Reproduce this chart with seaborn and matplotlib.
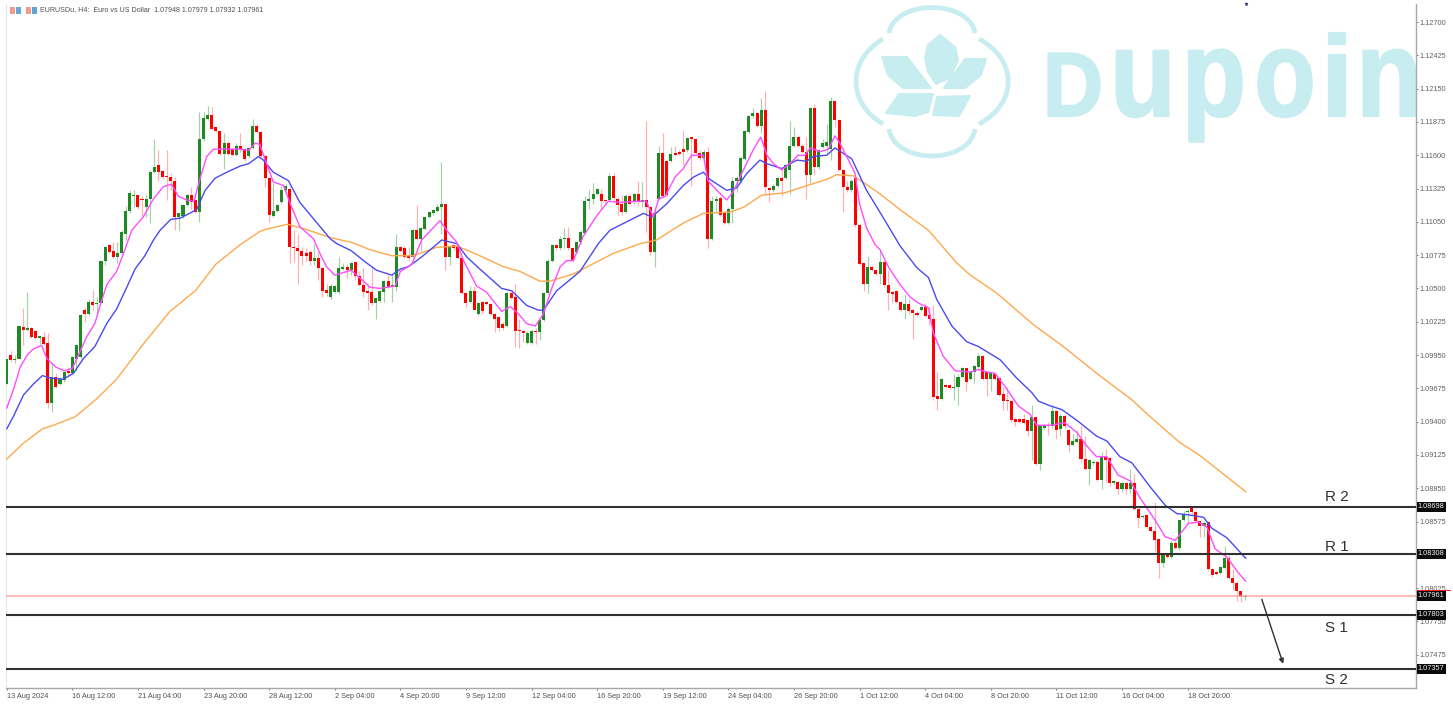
import numpy as np
import pandas as pd
import matplotlib
matplotlib.use("Agg")
import matplotlib.pyplot as plt
import seaborn as sns
from matplotlib.patches import PathPatch, Polygon, Rectangle
from matplotlib.path import Path
from matplotlib.patheffects import AbstractPathEffect
from matplotlib.transforms import Affine2D, blended_transform_factory

# prices are in pips (1 pip = 0.0001)
opens = [
 10971,10995,10991,10992,11018,11016,11017,11015,11009,11010,
 11005,10955,10977,10971,10974,10982,10980,10992,10993,11032,
 11029,11039,11037,11038,11073,11086,11081,11076,11079,11095,
 11114,11126,11127,11124,11117,11124,11146,11152,11147,11143,
 11142,11139,11109,11110,11119,11127,11123,11113,11173,11190,
 11193,11183,11180,11161,11170,11165,11160,11168,11165,11159,
 11166,11184,11179,11159,11141,11110,11114,11121,11131,11132,
 11084,11083,11081,11079,11080,11073,11075,11067,11049,11043,
 11047,11047,11066,11068,11065,11072,11060,11053,11048,11047,
 11038,11040,11047,11056,11051,11051,11084,11083,11077,11076,
 11098,11091,11099,11109,11112,11114,11117,11120,11076,11086,
 11084,11075,11046,11039,11048,11029,11039,11039,11037,11029,
 11026,11021,11019,11046,11043,11016,11015,11005,11005,11015,
 11014,11024,11046,11073,11086,11083,11091,11092,11083,11080,
 11088,11096,11122,11124,11128,11128,11123,11123,11143,11124,
 11120,11113,11126,11121,11128,11121,11123,11117,11080,11124,
 11162,11155,11155,11162,11163,11165,11164,11175,11173,11162,
 11158,11163,11091,11122,11125,11113,11104,11116,11139,11139,
 11157,11179,11192,11195,11184,11197,11133,11131,11135,11141,
 11141,11148,11168,11175,11168,11163,11144,11199,11150,11167,
 11168,11165,11205,11189,11148,11134,11131,11141,11102,11071,
 11054,11068,11065,11062,11072,11053,11047,11048,11039,11032,
 11037,11032,11030,11032,11035,11028,11025,10961,10959,10970,
 10970,10968,10969,10977,10984,10975,10981,10985,10994,10981,
 10975,10979,10976,10963,10958,10957,10942,10942,10942,10941,
 10932,10944,10905,10935,10937,10936,10949,10934,10945,10933,
 10921,10923,10926,10909,10901,10906,10907,10892,10911,10910,
 10889,10890,10884,10889,10884,10889,10868,10861,10863,10853,
 10850,10843,10823,10830,10828,10840,10836,10859,10865,10869,
 10865,10858,10854,10857,10818,10816,10815,10819,10827,10811,
 10807,10800,10795]
closes = [
 10992,10991,10992,11019,11016,11017,11010,11009,11011,11004,
 10955,10977,10969,10975,10981,10980,10993,11003,11028,11029,
 11039,11036,11038,11073,11084,11080,11076,11079,11097,11114,
 11129,11127,11117,11123,11124,11146,11150,11146,11142,11142,
 11139,11109,11112,11119,11127,11121,11113,11173,11191,11193,
 11182,11180,11161,11170,11161,11160,11168,11165,11157,11166,
 11184,11179,11159,11141,11111,11114,11119,11131,11135,11084,
 11083,11081,11077,11077,11073,11075,11067,11048,11046,11052,
 11052,11067,11068,11065,11071,11060,11053,11047,11046,11038,
 11042,11048,11056,11051,11053,11084,11081,11076,11075,11098,
 11091,11100,11109,11113,11115,11117,11120,11076,11084,11083,
 11075,11046,11038,11048,11032,11038,11031,11037,11029,11025,
 11017,11017,11046,11042,11015,11015,11013,11013,11015,11014,
 11024,11046,11073,11086,11083,11091,11092,11083,11073,11088,
 11097,11122,11124,11128,11132,11122,11122,11143,11125,11119,
 11113,11126,11120,11128,11121,11123,11117,11080,11112,11162,
 11126,11127,11161,11160,11161,11163,11174,11173,11162,11158,
 11163,11091,11122,11124,11111,11104,11116,11139,11141,11158,
 11180,11192,11195,11184,11197,11134,11131,11135,11141,11139,
 11152,11168,11175,11168,11163,11144,11199,11150,11164,11170,
 11171,11205,11189,11148,11134,11131,11139,11102,11070,11054,
 11068,11065,11062,11072,11053,11046,11045,11039,11032,11037,
 11031,11030,11028,11035,11027,11025,10960,10959,10975,10969,
 10968,10969,10977,10984,10973,10981,10986,10994,10975,10975,
 10980,10975,10962,10957,10957,10941,10940,10940,10939,10932,
 10944,10905,10936,10937,10936,10949,10933,10945,10936,10921,
 10924,10926,10909,10901,10908,10907,10892,10911,10908,10889,
 10891,10884,10889,10884,10889,10868,10860,10862,10853,10850,
 10842,10823,10830,10828,10840,10836,10859,10864,10866,10865,
 10858,10854,10856,10818,10813,10814,10820,10827,10811,10807,
 10800,10795,10796]
highs = [
 10992,10998,10995,11019,11034,11047,11018,11015,11011,11014,
 11013,10988,10980,10977,10982,10985,10994,11004,11029,11035,
 11041,11049,11043,11073,11085,11086,11088,11088,11098,11118,
 11131,11131,11127,11126,11128,11148,11173,11164,11148,11164,
 11145,11142,11112,11120,11128,11134,11124,11196,11196,11201,
 11200,11183,11180,11178,11171,11166,11170,11178,11166,11167,
 11190,11186,11180,11160,11142,11137,11120,11135,11136,11134,
 11098,11095,11084,11083,11082,11087,11080,11068,11054,11054,
 11053,11076,11071,11070,11072,11072,11064,11067,11054,11068,
 11043,11048,11057,11061,11062,11095,11085,11085,11084,11099,
 11119,11101,11110,11114,11116,11120,11154,11120,11085,11087,
 11085,11076,11047,11052,11052,11039,11040,11040,11038,11030,
 11027,11022,11047,11047,11054,11025,11016,11015,11016,11017,
 11025,11047,11074,11087,11087,11093,11100,11101,11084,11089,
 11098,11126,11132,11137,11133,11132,11124,11145,11145,11125,
 11127,11128,11129,11129,11139,11138,11188,11118,11115,11168,
 11178,11156,11167,11168,11164,11181,11175,11175,11174,11164,
 11164,11167,11126,11126,11126,11114,11117,11142,11143,11159,
 11181,11193,11199,11196,11207,11213,11134,11136,11142,11149,
 11153,11188,11183,11177,11169,11175,11200,11202,11165,11173,
 11186,11208,11205,11190,11149,11139,11140,11142,11103,11071,
 11077,11069,11066,11082,11073,11065,11048,11049,11040,11045,
 11041,11033,11031,11036,11038,11035,11036,10981,10976,10971,
 10971,10979,10979,10985,10984,10982,10987,10997,10995,10982,
 10981,10980,10977,10969,10969,10958,10943,10943,10946,10942,
 10954,10945,10937,10938,10940,10954,10950,10946,10946,10934,
 10930,10933,10936,10928,10909,10908,10908,10915,10917,10911,
 10892,10891,10890,10890,10901,10897,10869,10863,10864,10854,
 10874,10844,10831,10831,10841,10841,10859,10866,10868,10870,
 10866,10859,10858,10858,10819,10817,10821,10837,10830,10818,
 10808,10800,10798]
lows = [
 10971,10989,10988,10992,11003,11015,11009,11008,11004,11003,
 10951,10948,10968,10970,10973,10977,10979,10982,10992,11022,
 11028,11032,11029,11037,11069,11079,11075,11071,11077,11090,
 11112,11117,11116,11110,11109,11104,11145,11139,11140,11123,
 11131,11098,11098,11108,11118,11116,11112,11105,11172,11189,
 11181,11179,11160,11149,11160,11159,11159,11163,11155,11158,
 11165,11178,11158,11134,11105,11109,11113,11120,11130,11071,
 11072,11054,11069,11073,11069,11069,11057,11043,11044,11041,
 11046,11045,11065,11059,11061,11057,11052,11043,11032,11036,
 11025,11039,11039,11050,11039,11048,11080,11075,11073,11076,
 11090,11081,11098,11108,11111,11113,11095,11065,11069,11082,
 11074,11045,11035,11038,11032,11028,11029,11036,11028,11014,
 11015,11016,11018,11041,11002,11001,11006,11004,11004,11004,
 11007,11023,11045,11072,11082,11082,11083,11082,11072,11079,
 11087,11095,11116,11120,11127,11115,11120,11122,11122,11111,
 11111,11112,11119,11120,11118,11117,11097,11078,11068,11123,
 11125,11126,11154,11159,11160,11152,11163,11135,11161,11156,
 11157,11083,11090,11113,11110,11103,11103,11104,11130,11137,
 11156,11178,11191,11183,11178,11127,11121,11130,11134,11126,
 11140,11128,11167,11167,11162,11124,11137,11144,11149,11166,
 11161,11156,11183,11147,11113,11130,11130,11101,11069,11048,
 11046,11064,11061,11054,11051,11032,11038,11038,11031,11025,
 11029,11008,11026,11031,11026,11020,10958,10950,10958,10968,
 10967,10958,10954,10976,10965,10974,10972,10984,10974,10961,
 10965,10974,10961,10950,10950,10940,10936,10939,10938,10928,
 10908,10904,10900,10934,10929,10935,10926,10928,10935,10915,
 10920,10922,10907,10900,10888,10905,10891,10884,10890,10887,
 10888,10880,10882,10880,10881,10867,10853,10860,10852,10849,
 10833,10811,10820,10827,10827,10835,10834,10858,10857,10864,
 10857,10845,10845,10817,10812,10813,10814,10818,10810,10801,
 10792,10791,10793]

fast_bar = [0,1.6,3.3,5,6.5,8.5,9.8,12,14,16,17.5,19.5,21.5,22.8,24.4,26.8,28.5,30.5,33.3,35.8,38.2,40.2,41.9,43.9,45.7,47,48.8,50.4,53.7,56.9,59,60.6,61.7,63.4,65,67.5,69.5,71.5,74.8,76.8,78,80,84,86,88.6,91,94.7,96,98.8,101.2,103.7,105.7,107.3,109.8,111.4,114.6,117,120.7,122.8,124.8,126.8,128.9,130.9,132.9,135,136.6,138.2,140.6,143.9,146.7,149.6,153.6,156,157.7,159,160.6,163,165,167,169.9,171,173.2,175.6,177.2,179.7,182,183.9,185.4,187,189,191,193,194.7,196,198.4,200.4,202,203.2,205.3,206.9,208,209.7,211.8,213,215,217.9,220.3,222.3,224.8,226,228.4,231.3,235,237,239,241,243.5,246.7,249.6,251.2,254.5,258.1,261,263.4,265.8,268.3,271,274,276.4,280,282.5,285,286.6,288.2,290.7,292.7,294.7,297.6,300.4,302.2]
fast_ma = [10951,10966,10985,10995,11000,11003,10992,10985,10982,10984,10995,11010,11021,11036,11053,11064,11079,11098,11109,11124,11134,11136,11126,11123,11122,11139,11159,11165,11165,11165,11164,11170,11169,11153,11138,11135,11117,11101,11091,11076,11068,11061,11065,11059,11051,11050,11052,11064,11070,11090,11099,11106,11098,11088,11073,11052,11047,11031,11035,11029,11021,11019,11029,11050,11068,11073,11073,11093,11110,11122,11121,11122,11122,11109,11124,11126,11142,11149,11160,11160,11139,11131,11123,11130,11148,11164,11175,11160,11153,11148,11153,11160,11160,11166,11163,11165,11176,11170,11156,11145,11120,11100,11086,11082,11068,11053,11043,11038,11034,11013,10994,10982,10981,10983,10981,10980,10969,10953,10946,10937,10937,10939,10931,10920,10911,10911,10896,10891,10877,10859,10845,10842,10849,10856,10857,10853,10835,10828,10815,10808]

mid_bar = [0,1.6,4.1,6.5,8.7,10.6,13.8,16.3,18.7,21.5,24.4,26.8,29.3,31.3,33.7,35.8,37.4,40,42.3,46.3,48.4,50.8,53.7,56.9,59,61.4,62.6,65,68.7,71.5,75.2,78.9,80.5,84.1,87,90.2,93.9,96,98,101.2,106.1,109.8,112.2,115.4,120.7,123.2,126.8,129.7,130.9,134.1,136.6,139.8,144.3,147.1,151.2,155.3,157.3,161,165,167.5,169.9,171.5,175.6,178,180.5,183.7,185.4,189,192.7,195.1,196.7,200,202,206.1,209.7,212.6,217.9,222,224.8,226.8,230.5,234.1,237,242.3,246.3,250,251.6,254.5,257.3,261.4,265.8,268.3,271.5,274.4,278.9,282.5,285.4,288.2,291.9,293.9,297.6,302.2]
mid_ma = [10934,10944,10962,10971,10978,10976,10975,10980,10992,11002,11021,11033,11051,11066,11077,11090,11098,11107,11108,11115,11131,11141,11146,11151,11153,11159,11156,11146,11139,11121,11106,11091,11087,11081,11073,11065,11061,11066,11068,11076,11090,11087,11076,11066,11050,11048,11036,11032,11032,11048,11055,11064,11087,11098,11105,11112,11109,11120,11135,11142,11146,11140,11131,11133,11145,11156,11153,11149,11156,11155,11159,11160,11166,11157,11131,11115,11085,11067,11059,11041,11019,11006,11002,10991,10976,10964,10957,10953,10950,10940,10928,10924,10911,10906,10886,10871,10864,10863,10861,10852,10844,10827]

slow_bar = [0,4,8.7,11.4,16.7,22,26.8,33.3,39.8,46,51,56.9,61.7,63.4,68.5,72.8,78.9,84.1,88.6,93.9,99.2,104.9,109.8,115.4,121.1,125.2,130,132.5,138.2,148,154.5,158.5,165,169.9,176.4,179.7,184.1,189.8,194.3,200,202.4,206.5,212.2,217.9,224.8,231.7,235,241.5,250.4,257.7,265.8,274.4,278.9,286,291,295.5,302.2]
slow_ma = [10909,10922,10934,10937,10944,10959,10975,11004,11031,11048,11070,11086,11097,11099,11103,11099,11092,11088,11082,11077,11077,11084,11085,11077,11068,11064,11056,11056,11062,11079,11087,11090,11104,11112,11113,11117,11127,11129,11134,11140,11144,11143,11130,11115,11098,11071,11061,11046,11020,11002,10980,10958,10944,10923,10912,10900,10882]

level_names = ["R 2", "R 1", "S 1", "S 2"]
level_prices = [1.08698, 1.08308, 1.07803, 1.07357]
level_label_prices = [1.08778, 1.08365, 1.07696, 1.07267]
last_price = 1.07961
y_ticks = [1.12700,1.12425,1.12150,1.11875,1.11600,1.11325,1.11050,1.10775,1.10500,1.10225,
           1.09950,1.09675,1.09400,1.09125,1.08850,1.08575,1.08300,1.08025,1.07750,1.07475]
x_labels = ["13 Aug 2024","16 Aug 12:00","21 Aug 04:00","23 Aug 20:00","28 Aug 12:00","2 Sep 04:00",
            "4 Sep 20:00","9 Sep 12:00","12 Sep 04:00","16 Sep 20:00","19 Sep 12:00","24 Sep 04:00",
            "26 Sep 20:00","1 Oct 12:00","4 Oct 04:00","8 Oct 20:00","11 Oct 12:00","16 Oct 04:00","18 Oct 20:00"]
header = "EURUSDu, H4:  Euro vs US Dollar  1.07948 1.07979 1.07932 1.07961"
logo_letters = ["D", "u", "p", "o", "i", "n"]

W, H = 1453, 704
sns.set_theme(style="white")
plt.rcParams["font.family"] = ["Liberation Sans", "DejaVu Sans"]
fig = plt.figure(figsize=(W / 100, H / 100), dpi=100, facecolor="white")
ax = fig.add_axes([6 / W, (H - 688) / H, (1416 - 6) / W, (688 - 4) / H])
ax.set_facecolor("white")
ax.set_xlim(-0.17, 343.7)
ax.set_ylim(1.07200, 1.12849)

px = Affine2D().scale(1, -1).translate(0, H)   # logo placement, pixels from top-left
WM = "#c8edf0"


class Stretch(AbstractPathEffect):
    """Scale a glyph about an anchor so the logo lettering keeps its proportions."""
    def __init__(self, cx, cy, sx, sy, stroke):
        super().__init__()
        self.t = Affine2D().translate(-cx, -cy).scale(sx, sy).translate(cx, cy)
        self.stroke = stroke

    def draw_path(self, renderer, gc, tpath, affine, rgbFace=None):
        g = renderer.new_gc()
        g.copy_properties(gc)
        g.set_foreground(rgbFace)
        g.set_linewidth(self.stroke)
        renderer.draw_path(g, tpath, affine + self.t, rgbFace)
        g.restore()


letter_cx = [1073, 1143, 1214, 1285, 1337, 1389]
letter_sx = [1.00, 1.29, 1.26, 1.20, 1.45, 1.29]
letter_sy = [1.09, 1.48, 1.48, 1.48, 1.38, 1.48]
for ch, cx, sx, sy in zip(logo_letters, letter_cx, letter_sx, letter_sy):
    t = ax.text(cx, 116, ch, transform=px, ha="center", va="baseline", color=WM, zorder=0.5,
                weight="bold", fontsize=60, clip_on=True)
    t.set_path_effects([Stretch(cx, H - 116, sx, sy, 1.6)])
arcs = [[(889, 33), (895, -1), (969, -1), (975, 33)],
        [(889, 129), (895, 165), (969, 165), (975, 129)],
        [(883, 39), (847, 60), (847, 103), (883, 124)],
        [(979, 39), (1018, 60), (1018, 103), (979, 124)]]
for a in arcs:
    ax.add_patch(PathPatch(Path(a, [Path.MOVETO, Path.CURVE4, Path.CURVE4, Path.CURVE4]), fc="none",
                           ec=WM, lw=3.4, transform=px, zorder=0.5, clip_on=False))
petals = [[(940, 35), (928, 45), (925, 58), (928, 72), (936, 84), (950, 78), (958, 60), (955, 47)],
          [(882, 57), (907, 57), (931, 88), (903, 88), (888, 75)],
          [(986, 59), (965, 59), (944, 88), (965, 88), (981, 75)],
          [(933, 94), (899, 94), (886, 113), (915, 116), (928, 112)],
          [(937, 97), (970, 96), (959, 116), (933, 115)]]
for p in petals:
    ax.add_patch(Polygon(p, closed=True, fc=WM, ec=WM, lw=1.5, joinstyle="round", transform=px,
                         zorder=0.5, clip_on=False))

candles = pd.DataFrame({"bar": np.arange(len(opens)), "open": opens, "high": highs, "low": lows, "close": closes})
for col in ["open", "high", "low", "close"]:
    candles[col] = candles[col] / 10000
up = candles["close"] >= candles["open"]
GREEN, RED = "#1f8a24", "#ff0000"
ax.vlines(candles["bar"][up], candles["low"][up], candles["high"][up], color="#a6d2a8", lw=0.85, zorder=2)
ax.vlines(candles["bar"][~up], candles["low"][~up], candles["high"][~up], color="#ffb0b0", lw=0.85, zorder=2)
ax.bar(candles["bar"][up], (candles["close"] - candles["open"])[up], bottom=candles["open"][up],
       width=0.74, color=GREEN, lw=0, zorder=3)
ax.bar(candles["bar"][~up], (candles["open"] - candles["close"])[~up], bottom=candles["close"][~up],
       width=0.74, color=RED, lw=0, zorder=3)

for xs, ys, c, z in [(slow_bar, slow_ma, "#ffa94d", 4), (mid_bar, mid_ma, "#4a4af2", 5), (fast_bar, fast_ma, "#ff4dff", 6)]:
    line = pd.DataFrame({"bar": xs, "price": np.array(ys) / 10000})
    sns.lineplot(data=line, x="bar", y="price", color=c, lw=1.0, ax=ax, estimator=None, zorder=z)
ax.set_xlabel("")
ax.set_ylabel("")

for lv in level_prices:
    ax.axhline(lv, color="#303030", lw=1.5, zorder=7)
ax.axhline(last_price, color="#ffa5a5", lw=1.1, zorder=7)

for name, y in zip(level_names, level_label_prices):
    ax.text(321.5, y, name, fontsize=11, color="#303030", ha="left", va="center", zorder=8)

ax.annotate("", xy=(311.3, 1.0740), xytext=(306.1, 1.07932),
            arrowprops=dict(arrowstyle="-|>", color="#303030", lw=1.0, mutation_scale=7, shrinkA=0, shrinkB=0), zorder=8)

# axes frame and ticks
ax.spines["top"].set_visible(False)
ax.spines["left"].set_color("#e6e6e6")
ax.spines["left"].set_linewidth(0.8)
ax.spines["right"].set_color("#a8a8a8")
ax.spines["bottom"].set_color("#a8a8a8")
ax.spines["right"].set_linewidth(1.0)
ax.spines["bottom"].set_linewidth(1.0)
ax.yaxis.tick_right()
ax.set_yticks(y_ticks)
ax.set_yticklabels([f"{v:.5f}" for v in y_ticks], fontsize=5.3, color="#606060")
ax.tick_params(axis="y", length=1.6, width=0.6, color="#606060", pad=1.0, right=True)
xt = [16 * k for k in range(len(x_labels))]
ax.set_xticks(xt)
ax.set_xticklabels(x_labels, fontsize=5.3, color="#505050", ha="left")
ax.tick_params(axis="x", length=1.6, width=0.6, color="#606060", pad=1.8, bottom=True)

# price tags right of the axis
tr = blended_transform_factory(ax.transAxes, ax.transData)
for v in level_prices + [last_price]:
    ax.text(1.00135, v, f"{v:.5f}", transform=tr, fontsize=5.3, color="#f0f0f0", ha="left", va="center",
            clip_on=False, zorder=12, bbox=dict(fc="#0a0a0a", ec="#0a0a0a", pad=1.0, lw=0))
fig.add_artist(Rectangle((1417 / W, (H - 591) / H), 34 / W, 1.5 / H, fc="#ff2020", ec="none",
                         transform=fig.transFigure, zorder=13))
ax.plot([1246], [4], marker="v", ms=1.5, color="#3a3a80", transform=px, clip_on=False, zorder=8)

# header
fig.text(40 / W, (H - 10) / H, header, fontsize=5.15, color="#505050", ha="left", va="center")
for x0, c in [(10, "#f29a90"), (15.5, "#6aa8dc"), (26, "#f29a90"), (32, "#5aa6dc")]:
    fig.add_artist(Rectangle((x0 / W, (H - 14) / H), 5.3 / W, 7 / H, fc=c, ec="none", transform=fig.transFigure))

fig.savefig("out.png", dpi=100, facecolor="white")
